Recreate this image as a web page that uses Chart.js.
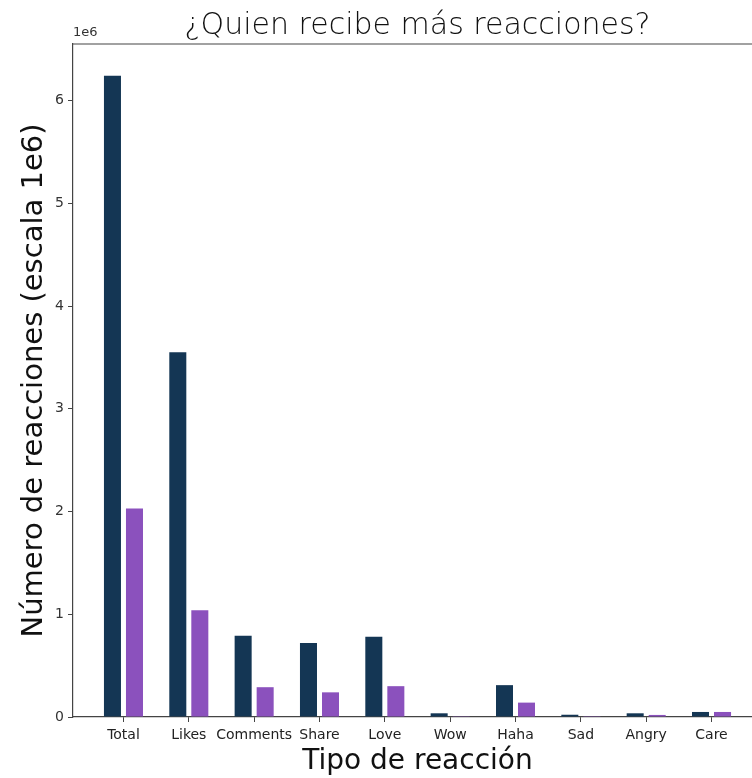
<!DOCTYPE html>
<html>
<head>
<meta charset="utf-8">
<script src="https://cdn.jsdelivr.net/npm/chart.js@4"></script>
<style>
html,body{margin:0;padding:0;background:#fff;overflow:hidden;}
#wrap{width:768px;height:778px;}
</style>
</head>
<body>
<div id="wrap"><canvas id="c" width="768" height="778"></canvas></div>
<script>
const categories = ["Total","Likes","Comments","Share","Love","Wow","Haha","Sad","Angry","Care"];
const seriesA = [6240000, 3550000, 790000, 720000, 780000, 36000, 310000, 22000, 36000, 49000];
const seriesB = [2030000, 1040000, 290000, 240000, 300000, 2000, 140000, 1500, 20000, 49000];
const yTicks = [0,1,2,3,4,5,6];
const titleText = "¿Quien recibe más reacciones?";
const yTitle = "Número de reacciones (escala 1e6)";
const xTitle = "Tipo de reacción";

const spines = {
  id: 'spines',
  afterDatasetsDraw(chart) {
    const {ctx, chartArea: a} = chart;
    ctx.save();
    ctx.strokeStyle = '#444';
    ctx.lineWidth = 1.2;
    ctx.beginPath();
    ctx.moveTo(a.left, a.top); ctx.lineTo(a.right, a.top); ctx.lineTo(a.right, a.bottom);
    ctx.stroke();
    ctx.fillStyle = '#333';
    ctx.font = '13px "DejaVu Sans"';
    ctx.textAlign = 'left';
    ctx.textBaseline = 'bottom';
    ctx.fillText('1e6', a.left, a.top - 5);
    ctx.restore();
  }
};

new Chart(document.getElementById('c'), {
  type: 'bar',
  data: {
    datasets: [
      { data: seriesA.map((v,i)=>({x:i,y:v})), backgroundColor: '#143654', borderWidth: 0 },
      { data: seriesB.map((v,i)=>({x:i,y:v})), backgroundColor: '#8b51bd', borderWidth: 0 }
    ]
  },
  options: {
    responsive: false,
    devicePixelRatio: 1,
    animation: false,
    categoryPercentage: 0.674,
    barPercentage: 0.773,
    layout: { padding: { right: 6, left: 0, top: 0, bottom: 0 } },
    plugins: {
      legend: { display: false },
      tooltip: { enabled: false },
      title: {
        display: true, text: titleText, fullSize: false,
        font: { family: 'DejaVu Sans', size: 30, weight: 300, lineHeight: 1.2 },
        color: '#111',
        padding: { top: 8, bottom: 0 }
      }
    },
    scales: {
      x: {
        type: 'linear',
        offset: false,
        min: -0.7725, max: 9.7725,
        afterBuildTicks: s => { s.ticks = categories.map((_, i) => ({ value: i })); },
        afterFit: s => { s.height = 61; },
        ticks: {
          callback: v => categories[v],
          font: { family: 'DejaVu Sans', size: 14 },
          color: '#222', padding: 5, maxRotation: 0, autoSkip: false
        },
        grid: { offset: false, drawOnChartArea: false, tickLength: 5, color: '#444', tickColor: '#444' },
        border: { display: true, color: '#444', width: 1.2 },
        title: {
          display: true, text: xTitle,
          font: { family: 'DejaVu Sans', size: 28, lineHeight: 1 },
          color: '#111', padding: { top: 0, bottom: 2 }
        }
      },
      y: {
        min: 0, max: 6550000,
        afterBuildTicks: s => { s.ticks = yTicks.map(v => ({ value: v * 1e6 })); },
        afterFit: s => { s.width = 73; },
        ticks: {
          callback: v => String(v / 1e6),
          font: { family: 'DejaVu Sans', size: 14 },
          color: '#333', padding: 4
        },
        grid: { drawOnChartArea: false, tickLength: 5, tickColor: '#444' },
        border: { display: true, color: '#444', width: 1.2 },
        title: {
          display: true, text: yTitle,
          font: { family: 'DejaVu Sans', size: 29, lineHeight: 1 },
          color: '#111', padding: { top: 20, bottom: 0 }
        }
      }
    }
  },
  plugins: [spines]
});
</script>
</body>
</html>
